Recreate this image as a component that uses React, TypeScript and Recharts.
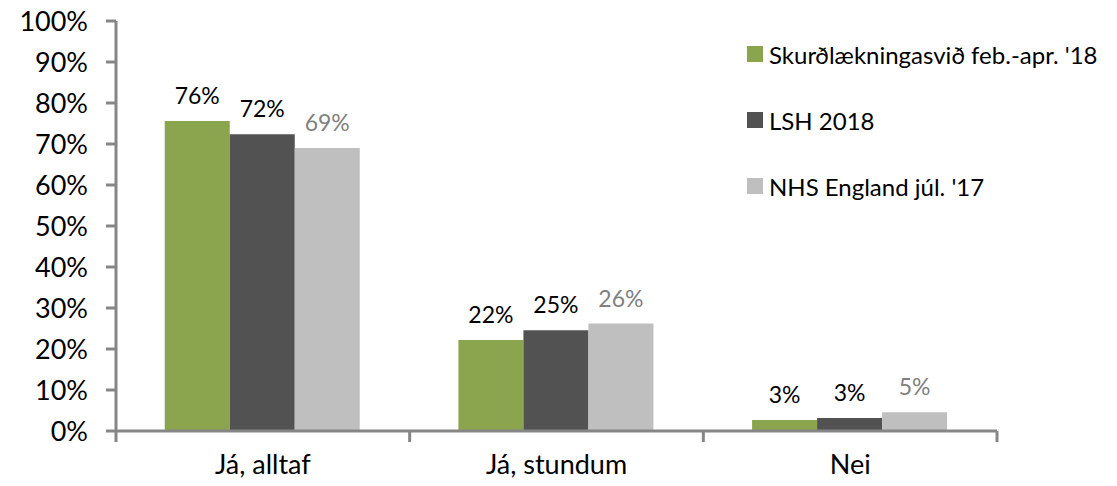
import { BarChart, Bar, XAxis, YAxis, LabelList } from "recharts";

const categories = ["Já, alltaf", "Já, stundum", "Nei"];
const surgery = [75.6, 22.2, 2.7];
const lsh = [72.4, 24.6, 3.2];
const nhs = [69.0, 26.2, 4.6];
const yTicks = [0, 10, 20, 30, 40, 50, 60, 70, 80, 90, 100];

const series = [
  { key: "surgery", name: "Skurðlækningasvið feb.-apr. '18", color: "#8AA54E", label: "#000000" },
  { key: "lsh", name: "LSH 2018", color: "#525252", label: "#000000" },
  { key: "nhs", name: "NHS England júl. '17", color: "#BFBFBF", label: "#808080" },
];

const data = categories.map((name, i) => ({
  name,
  surgery: surgery[i],
  lsh: lsh[i],
  nhs: nhs[i],
}));

const FONT = "Lato, 'Open Sans', sans-serif";
const AXIS = "#868686";

function CategoryTick(props: any) {
  const { x, y, payload, index, visibleTicksCount } = props;
  const half = payload && payload.offset ? payload.offset : 293.7 / 2;
  return (
    <g>
      <line x1={x - half} x2={x - half} y1={y} y2={y + 11} stroke={AXIS} strokeWidth={3} />
      {index === visibleTicksCount - 1 && (
        <line x1={x + half} x2={x + half} y1={y} y2={y + 11} stroke={AXIS} strokeWidth={3} />
      )}
      <text x={x} y={y + 24} dy="0.71em" textAnchor="middle" fontSize={27} fill="#000" fontFamily={FONT}>
        {payload.value}
      </text>
    </g>
  );
}

export default function App() {
  return (
    <div style={{ position: "absolute", left: 0, top: 0, width: 1117, height: 486, background: "#fff" }}>
      <BarChart
        width={1117}
        height={486}
        data={data}
        margin={{ top: 21, right: 120, left: 16, bottom: 10 }}
        barGap={0}
        barCategoryGap="16.6%"
      >
        <YAxis
          width={100}
          domain={[0, 100]}
          ticks={yTicks}
          tickFormatter={(v: number) => `${v}%`}
          axisLine={{ stroke: AXIS, strokeWidth: 3 }}
          tickLine={{ stroke: AXIS, strokeWidth: 3 }}
          tickSize={10}
          tickMargin={18}
          tick={{ fontSize: 27, fill: "#000", fontFamily: FONT }}
          interval={0}
        />
        <XAxis
          dataKey="name"
          height={45}
          axisLine={{ stroke: AXIS, strokeWidth: 3 }}
          tickLine={false}
          tickSize={0}
          tickMargin={0}
          tick={<CategoryTick />}
          interval={0}
        />
        {series.map((s) => (
          <Bar key={s.key} dataKey={s.key} fill={s.color} isAnimationActive={false}>
            <LabelList
              dataKey={s.key}
              position="top"
              offset={17}
              formatter={(v: any) => `${Math.round(Number(v))}%`}
              style={{ fontSize: 23, fill: s.label, fontFamily: FONT }}
            />
          </Bar>
        ))}
      </BarChart>
      <div style={{ position: "absolute", left: 747, top: 39, fontFamily: FONT }}>
        {series.map((s) => (
          <div key={s.key} style={{ display: "flex", alignItems: "center", height: 30, marginBottom: 36 }}>
            <div style={{ width: 16, height: 16, background: s.color, marginRight: 6 }} />
            <span style={{ fontSize: 24, color: "#000", whiteSpace: "nowrap" }}>{s.name}</span>
          </div>
        ))}
      </div>
    </div>
  );
}
